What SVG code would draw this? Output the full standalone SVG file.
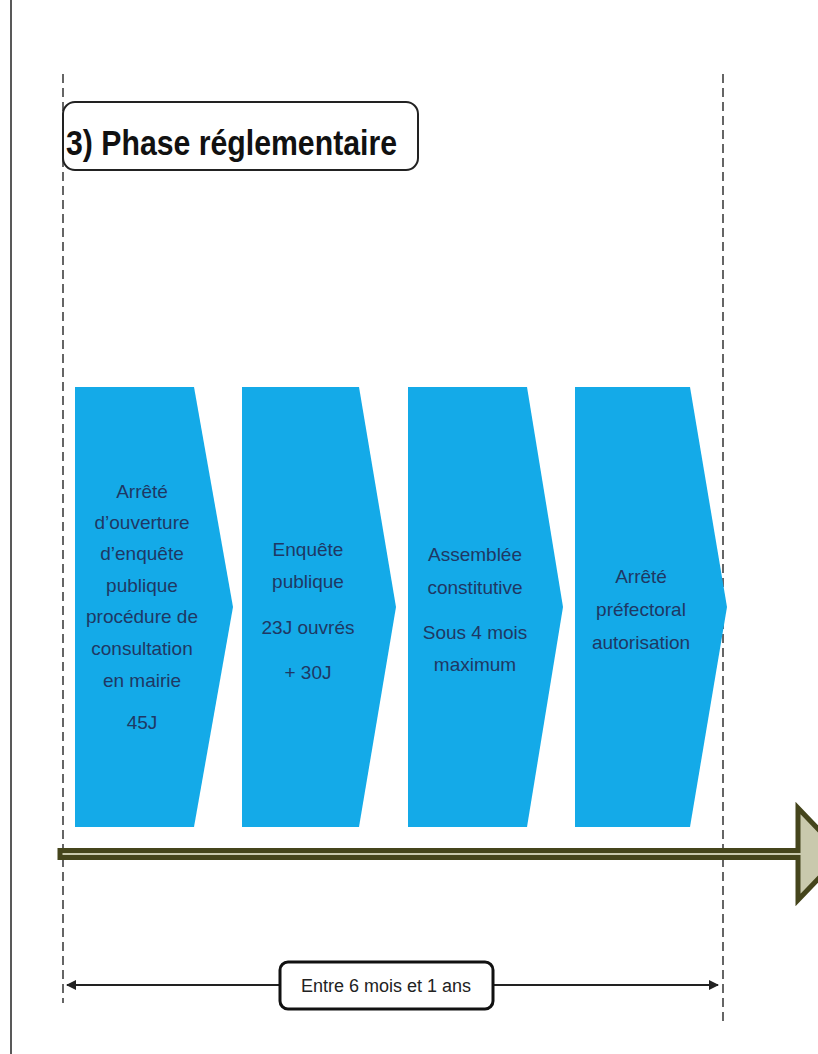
<svg xmlns="http://www.w3.org/2000/svg" width="818" height="1054" viewBox="0 0 818 1054">
  <defs>
    <style>
      .chev { fill: #14AAE8; }
      .ct { font-family: "Liberation Sans", Arial, sans-serif; font-size: 19px; fill: #1F3864; text-anchor: middle; }
      .guide { stroke: #333; stroke-width: 1.5; stroke-dasharray: 9 5; fill: none; }
      .title { font-family: "Liberation Sans", Arial, sans-serif; font-weight: bold; font-size: 35px; fill: #111; }
      .dim { stroke: #222; stroke-width: 2; fill: none; }
      .lbl { font-family: "Liberation Sans", Arial, sans-serif; font-size: 18px; fill: #222; text-anchor: middle; }
    </style>
    <marker id="ah" viewBox="0 0 10 10" refX="9" refY="5" markerWidth="5" markerHeight="5" orient="auto-start-reverse">
      <path d="M0,0 L10,5 L0,10 z" fill="#222"/>
    </marker>
  </defs>
  <rect width="818" height="1054" fill="#ffffff"/>

  <!-- page edge line -->
  <line x1="11" y1="0" x2="11" y2="1054" stroke="#222" stroke-width="1.5"/>

  <!-- guides -->
  <g id="guides">
    <line class="guide" x1="63" y1="74" x2="63" y2="1003"/>
    <line class="guide" x1="723" y1="74" x2="723" y2="1023"/>
  </g>

  <g id="title">
    <rect x="63" y="102" width="355" height="68" rx="12" ry="12" fill="#fff" stroke="#222" stroke-width="2"/>
    <text class="title" x="66" y="155" textLength="331" lengthAdjust="spacingAndGlyphs">3) Phase réglementaire</text>
  </g>

  <g id="step1">
    <polygon class="chev" points="75,387 194,387 233,607 194,827 75,827"/>
    <text class="ct" x="142" y="498">Arrêté</text>
    <text class="ct" x="142" y="529">d’ouverture</text>
    <text class="ct" x="142" y="560">d’enquête</text>
    <text class="ct" x="142" y="592">publique</text>
    <text class="ct" x="142" y="623">procédure de</text>
    <text class="ct" x="142" y="655">consultation</text>
    <text class="ct" x="142" y="687">en mairie</text>
    <text class="ct" x="142" y="729">45J</text>
  </g>

  <g id="step2">
    <polygon class="chev" points="242,387 359,387 396,607 359,827 242,827"/>
    <text class="ct" x="308" y="556">Enquête</text>
    <text class="ct" x="308" y="588">publique</text>
    <text class="ct" x="308" y="634">23J ouvrés</text>
    <text class="ct" x="308" y="679">+ 30J</text>
  </g>

  <g id="step3">
    <polygon class="chev" points="408,387 527,387 563,607 527,827 408,827"/>
    <text class="ct" x="475" y="561">Assemblée</text>
    <text class="ct" x="475" y="594">constitutive</text>
    <text class="ct" x="475" y="639">Sous 4 mois</text>
    <text class="ct" x="475" y="671">maximum</text>
  </g>

  <g id="step4">
    <polygon class="chev" points="575,387 690,387 727,607 690,827 575,827"/>
    <text class="ct" x="641" y="583">Arrêté</text>
    <text class="ct" x="641" y="616">préfectoral</text>
    <text class="ct" x="641" y="649">autorisation</text>
  </g>

  <g id="connectors">
    <polygon id="timeline" points="60,850.5 798,850.5 798,808 842,854 798,900 798,857.5 60,857.5" fill="#c9c9ad" stroke="#45451c" stroke-width="5" stroke-linejoin="miter"/>
    <line class="dim" x1="67" y1="985" x2="280" y2="985" marker-start="url(#ah)"/>
    <line class="dim" x1="493" y1="985" x2="718" y2="985" marker-end="url(#ah)"/>
  </g>

  <g id="duration">
    <rect x="280" y="962" width="213" height="47" rx="8" ry="8" fill="#fff" stroke="#111" stroke-width="3"/>
    <text class="lbl" x="386" y="992">Entre 6 mois et 1 ans</text>
  </g>
</svg>
